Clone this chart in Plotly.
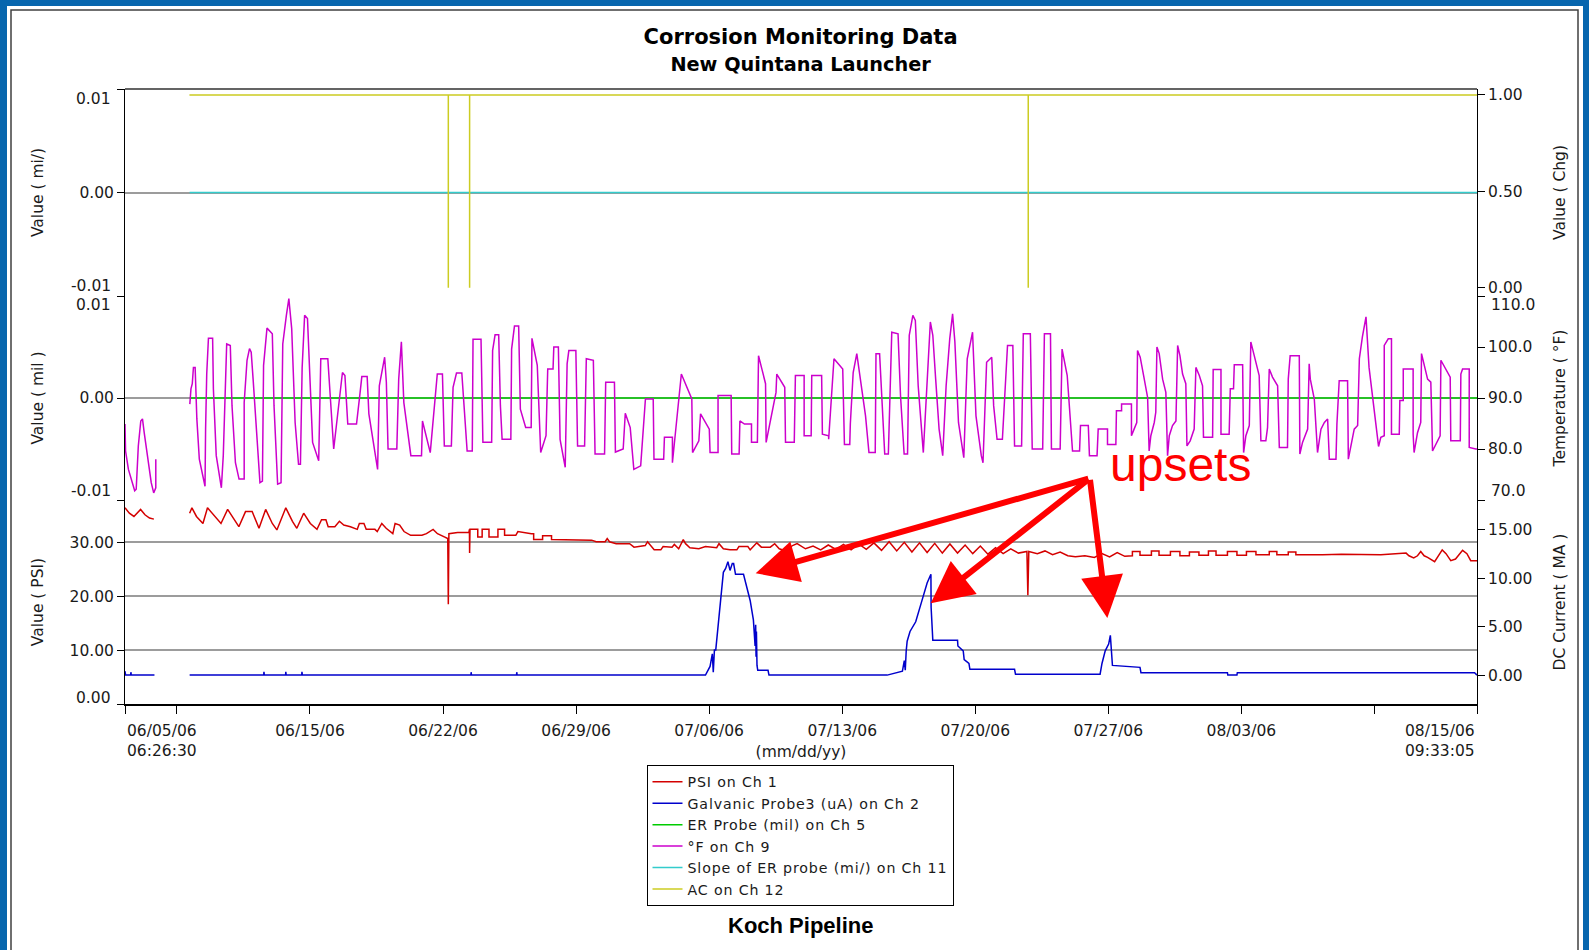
import pandas as pd
import plotly.graph_objects as go

# ---------------- data ----------------
START = pd.Timestamp("2006-06-05 06:26:30")
END = pd.Timestamp("2006-08-15 09:33:05")

# Temperature (°F on Ch 9): day offset from START, value
TEMP_DAYS = [
    0.00, 0.03, 0.18, 0.37, 0.51, 0.59, 0.70, 0.83, 0.92, 1.01, 1.20, 1.38, 1.51, 1.62, 1.62, 2.50,
    3.41, 3.47, 3.54, 3.60, 3.69, 3.78, 3.91, 4.06, 4.21, 4.24, 4.30, 4.39, 4.61, 4.65, 4.80, 5.07,
    5.17, 5.35, 5.54, 5.63, 5.81, 6.00, 6.27, 6.27, 6.42, 6.55, 6.64, 6.74, 6.92, 7.10, 7.23, 7.29,
    7.47, 7.75, 7.84, 8.03, 8.21, 8.30, 8.49, 8.62, 8.77, 8.95, 9.13, 9.23, 9.32, 9.45, 9.60, 9.69,
    9.87, 10.19, 10.30, 10.67, 10.80, 10.98, 11.44, 11.57, 11.72, 12.18, 12.37, 12.46, 12.74, 12.83,
    13.29, 13.38, 13.66, 13.75, 13.84, 14.30, 14.40, 14.54, 14.67, 15.04, 15.60, 15.65, 16.06, 16.20,
    16.43, 16.70, 16.80, 17.17, 17.26, 17.44, 17.72, 18.00, 18.27, 18.31, 18.73, 18.83, 19.29, 19.34,
    19.47, 19.66, 19.75, 19.84, 20.30, 20.34, 20.49, 20.71, 20.80, 21.08, 21.37, 21.41, 21.69, 21.87,
    22.15, 22.24, 22.52, 22.56, 22.80, 22.89, 23.16, 23.26, 23.35, 23.72, 23.81, 24.18, 24.27, 24.64,
    24.73, 25.23, 25.29, 25.75, 25.80, 26.21, 26.32, 26.58, 26.77, 27.13, 27.27, 27.38, 27.79, 27.83,
    28.34, 28.38, 28.80, 28.80, 29.27, 29.82, 29.86, 30.19, 30.28, 30.74, 30.78, 31.20, 31.20, 31.89,
    31.92, 32.31, 32.35, 32.59, 32.96, 32.96, 33.27, 33.33, 33.70, 33.73, 34.25, 34.29, 34.71, 34.75,
    35.21, 35.27, 35.73, 35.73, 36.10, 36.13, 36.65, 36.69, 37.02, 37.02, 37.30, 37.76, 37.85, 38.13,
    38.16, 38.31, 38.50, 38.68, 38.96, 39.14, 39.47, 39.51, 39.70, 39.97, 40.16, 40.34, 40.67, 40.80,
    40.99, 41.17, 41.26, 41.45, 41.58, 41.73, 41.91, 42.00, 42.37, 42.50, 42.65, 42.83, 43.02, 43.20,
    43.39, 43.54, 43.66, 43.85, 44.13, 44.31, 44.59, 44.77, 45.05, 45.14, 45.33, 45.60, 45.70, 45.88,
    46.16, 46.43, 46.71, 46.80, 47.17, 47.26, 47.63, 47.73, 48.28, 48.37, 48.69, 48.74, 49.20, 49.30,
    49.57, 49.76, 49.85, 50.22, 50.27, 50.68, 50.74, 51.14, 51.20, 51.69, 51.69, 52.13, 52.16, 52.43,
    52.43, 52.95, 52.95, 53.09, 53.23, 53.27, 53.41, 53.59, 53.80, 53.88, 53.97, 54.15, 54.23, 54.29,
    54.41, 54.59, 54.76, 54.85, 54.94, 55.11, 55.29, 55.38, 55.50, 55.64, 55.81, 55.87, 56.04, 56.25,
    56.34, 56.52, 56.69, 56.74, 57.22, 57.25, 57.66, 57.66, 58.09, 58.15, 58.32, 58.36, 58.80, 58.85,
    58.97, 59.15, 59.23, 59.41, 59.67, 59.76, 60.02, 60.11, 60.20, 60.37, 60.64, 60.73, 61.16, 61.20,
    61.30, 61.78, 61.81, 61.95, 62.22, 62.30, 62.36, 62.57, 62.74, 62.92, 63.10, 63.27, 63.36, 63.71,
    63.76, 63.88, 64.32, 64.36, 64.67, 64.85, 64.94, 65.10, 65.29, 65.45, 65.70, 65.95, 66.07, 66.25,
    66.25, 66.46, 66.63, 66.63, 67.04, 67.07, 67.25, 67.25, 67.77, 67.77, 67.82, 68.00, 68.17, 68.21,
    68.53, 68.70, 68.79, 69.05, 69.19, 69.23, 69.58, 69.72, 69.75, 70.25, 70.28, 70.37, 70.72, 70.72,
    71.07, 71.13,
]
TEMP_F = [
    84.9, 79.6, 76.0, 73.4, 71.8, 72.1, 80.6, 85.5, 85.9, 83.2, 78.0, 73.4, 71.4, 72.4, 78.0, None,
    88.8, 91.8, 92.8, 96.0, 96.0, 85.9, 78.0, 75.4, 72.7, 83.9, 94.7, 101.7, 101.7, 91.8, 78.7, 72.4,
    78.7, 100.6, 100.3, 88.5, 77.3, 74.1, 74.1, 89.1, 97.4, 99.7, 99.0, 93.7, 83.2, 73.4, 73.7, 96.4,
    103.7, 102.6, 88.5, 73.1, 73.4, 100.6, 106.2, 109.5, 103.6, 85.2, 77.0, 77.0, 96.0, 106.2, 105.6, 97.7,
    81.3, 77.7, 97.7, 97.7, 89.8, 80.0, 95.0, 94.4, 84.9, 84.9, 91.1, 94.2, 94.2, 86.9,
    76.0, 92.4, 98.0, 93.1, 80.0, 80.0, 93.7, 101.0, 89.1, 78.7, 78.7, 85.5, 79.3, 85.5,
    94.7, 94.7, 80.6, 80.6, 92.1, 94.9, 94.9, 79.6, 79.6, 101.5, 101.5, 81.3, 81.3, 99.3,
    102.4, 102.4, 88.5, 81.9, 81.9, 99.6, 104.1, 104.1, 87.8, 84.2, 84.2, 101.7, 96.4, 79.3,
    82.6, 95.7, 95.7, 100.0, 100.0, 81.9, 76.4, 96.7, 99.3, 99.3, 80.6, 80.6, 97.7, 97.4,
    79.0, 79.0, 93.1, 93.1, 79.4, 80.0, 87.0, 84.2, 76.0, 76.7, 84.9, 89.8, 89.8, 78.0,
    78.0, 82.3, 82.3, 77.3, 94.7, 89.8, 79.3, 81.6, 86.9, 83.9, 79.3, 79.3, 90.5, 90.5,
    79.0, 79.0, 85.5, 84.9, 84.9, 81.3, 81.3, 98.3, 92.8, 81.3, 91.1, 94.7, 92.1, 81.3,
    81.3, 94.4, 94.4, 82.6, 82.6, 94.4, 94.4, 82.9, 82.6, 81.9, 97.7, 95.7, 80.9, 80.9,
    84.9, 95.0, 98.7, 94.1, 86.5, 79.3, 79.3, 98.7, 98.7, 79.0, 79.0, 102.9, 102.6, 90.5,
    79.0, 79.0, 102.3, 106.2, 105.2, 92.4, 83.9, 79.3, 104.9, 102.3, 93.7, 83.9, 78.7, 92.4,
    101.6, 106.5, 101.0, 85.2, 78.3, 97.7, 102.9, 86.5, 78.7, 77.3, 97.0, 98.0, 88.5, 81.9,
    81.9, 100.3, 100.3, 80.6, 80.6, 102.6, 102.6, 80.0, 80.0, 102.6, 102.6, 80.0, 80.0, 99.6,
    94.4, 85.2, 79.6, 79.6, 84.6, 84.6, 78.7, 78.7, 83.9, 83.9, 80.9, 80.9, 87.5, 87.5,
    88.8, 88.8, 82.6, 83.9, 85.2, 99.3, 98.0, 94.4, 90.1, 79.6, 82.6, 85.2, 87.2, 100.0,
    98.7, 93.7, 91.1, 78.7, 82.6, 84.6, 85.5, 100.3, 98.3, 94.7, 92.8, 80.6, 81.6, 83.9,
    96.0, 94.4, 92.4, 82.3, 82.3, 95.6, 95.6, 82.9, 82.9, 91.8, 91.8, 96.5, 96.5, 79.3,
    82.6, 84.6, 101.0, 98.3, 94.4, 81.6, 81.6, 84.2, 95.7, 94.1, 92.4, 80.3, 80.3, 93.7,
    98.3, 98.3, 79.0, 81.3, 83.9, 96.7, 93.7, 89.8, 79.3, 83.9, 85.2, 85.9, 78.0, 78.0,
    84.9, 93.4, 93.4, 78.0, 83.9, 84.6, 97.7, 102.0, 105.9, 96.0, 88.0, 80.5, 82.3, 82.6,
    100.3, 101.6, 101.6, 82.9, 82.9, 89.5, 89.5, 95.7, 95.7, 82.9, 79.3, 83.2, 85.2, 98.7,
    93.7, 93.1, 79.6, 81.6, 82.6, 97.4, 95.1, 94.1, 81.6, 81.6, 94.7, 95.7, 95.7, 80.3,
    80.0, 80.0,
]

# Pressure (PSI on Ch 1)
PSI_DAYS = [
    0.00, 0.23, 0.47, 0.82, 1.05, 1.29, 1.52, 2.50,
    3.40, 3.52, 3.76, 4.10, 4.34, 4.58, 5.05, 5.40, 5.64, 5.99, 6.34, 6.69, 7.05, 7.40, 7.75, 7.99,
    8.46, 8.81, 9.04, 9.40, 9.75, 10.10, 10.34, 10.57, 10.69, 11.04, 11.28, 11.51, 11.86, 12.22,
    12.33, 12.57, 12.69, 13.15, 13.27, 13.51, 13.74, 14.09, 14.21, 14.45, 14.68, 15.03, 15.62, 15.86,
    16.21, 16.44, 16.80, 16.98, 17.01, 17.04, 17.50, 18.09, 18.12, 18.13, 18.15, 18.56, 18.56, 18.79,
    18.79, 19.15, 19.15, 19.62, 19.62, 19.97, 19.97, 20.56, 20.67, 21.38, 21.50, 21.50, 21.97, 21.97,
    22.44, 22.44, 23.61, 24.55, 24.79, 25.26, 25.37, 25.49, 25.84, 26.55, 26.78, 27.37, 27.49, 27.72,
    27.84, 28.19, 28.31, 28.78, 28.90, 29.13, 29.37, 29.49, 29.72, 30.19, 30.54, 31.13, 31.25, 31.48,
    31.83, 32.19, 32.30, 32.77, 32.89, 33.24, 33.48, 33.95, 34.18, 34.42, 34.77, 35.12, 35.36, 35.80,
    36.20, 36.60, 37.00, 37.40, 37.80, 38.20, 38.60, 39.00, 39.40, 39.80, 40.20, 40.60, 41.00, 41.40,
    41.80, 42.20, 42.60, 43.00, 43.40, 43.80, 44.20, 44.60, 45.00, 45.40, 45.80, 46.20, 46.60, 47.00,
    47.45, 47.50, 47.55, 48.00, 48.40, 48.80, 49.20, 49.60, 50.00, 50.50, 51.00, 51.40, 51.80, 52.20,
    52.60, 53.00, 53.00, 53.40, 53.40, 54.00, 54.00, 54.40, 54.40, 55.00, 55.00, 55.50, 55.50, 56.00,
    56.00, 56.50, 56.50, 57.00, 57.00, 57.40, 57.40, 58.00, 58.00, 58.50, 58.50, 59.00, 59.00, 59.50,
    59.50, 60.20, 60.20, 60.60, 60.60, 61.20, 61.20, 61.60, 61.60, 63.00, 64.00, 66.07, 67.40, 67.55,
    67.80, 68.00, 68.17, 68.35, 68.53, 68.90, 69.30, 69.50, 69.75, 70.00, 70.37, 70.60, 70.80, 71.13,
]
PSI_VALUES = [
    36.4, 35.4, 34.8, 36.1, 35.1, 34.5, 34.3, None,
    35.4, 36.4, 34.8, 33.5, 36.4, 35.4, 33.5, 36.1, 34.8, 32.9, 35.7, 35.7, 32.6, 36.1, 33.5, 32.3,
    36.4, 33.9, 32.6, 35.4, 33.5, 32.4, 34.2, 34.2, 32.9, 32.9, 33.9, 33.2, 32.9, 32.4,
    33.5, 33.5, 32.4, 32.4, 32.0, 33.5, 32.6, 31.6, 33.5, 33.2, 32.0, 31.3, 31.3, 31.6,
    32.4, 31.6, 31.0, 30.7, 18.5, 31.6, 31.8, 31.8, 32.4, 28.0, 32.4, 32.4, 31.0, 31.0,
    32.4, 32.4, 31.0, 31.0, 32.4, 32.4, 31.3, 31.3, 32.0, 31.6, 31.6, 30.5, 30.5, 31.2,
    31.2, 30.5, 30.5, 30.4, 30.1, 30.1, 30.7, 30.1, 29.75, 29.75, 29.1, 29.4, 30.1, 29.1,
    28.6, 28.6, 29.2, 29.1, 29.6, 28.8, 30.5, 29.75, 29.0, 28.8, 29.2, 29.0, 29.75, 28.8,
    28.6, 28.6, 29.2, 29.2, 28.6, 29.9, 29.1, 29.1, 29.75, 28.8, 28.4, 29.4, 29.75, 28.8,
    29.3, 28.6, 29.5, 28.7, 29.6, 28.6, 29.7, 28.7, 29.9, 28.5, 30.1, 28.4, 30.0, 28.2,
    29.9, 28.1, 29.8, 28.0, 29.7, 28.0, 29.5, 27.9, 29.3, 27.8, 29.0, 27.9, 28.8, 28.0,
    28.3, 20.2, 28.3, 27.9, 28.4, 27.7, 28.2, 27.5, 27.3, 27.5, 27.2, 27.9, 27.3, 28.1,
    27.4, 27.5, 28.3, 28.3, 27.6, 27.6, 28.4, 28.4, 27.6, 27.6, 28.3, 28.3, 27.5, 27.5,
    28.2, 28.2, 27.6, 27.6, 28.4, 28.4, 27.6, 27.6, 28.3, 28.3, 27.6, 27.6, 28.3, 28.3,
    27.7, 27.7, 28.3, 28.3, 27.7, 27.7, 28.2, 28.2, 27.7, 27.7, 27.8, 27.7, 28.0, 27.5,
    27.1, 27.5, 28.3, 27.5, 27.2, 26.4, 28.6, 27.9, 26.6, 26.9, 28.5, 27.9, 26.6, 26.6,
]

# Galvanic probe current (right axis, mA)
GALV_DAYS = [
    0.00, 0.03, 0.30, 0.31, 0.33, 1.55, 2.50,
    3.40, 7.30, 7.31, 7.33, 8.45, 8.46, 8.48, 9.30, 9.31, 9.33, 18.20, 18.21, 18.23, 20.60, 20.61,
    20.63, 30.54, 30.66, 30.78, 30.90, 30.95, 31.01, 31.08, 31.25, 31.36, 31.48, 31.60, 31.72, 31.83,
    31.95, 32.02, 32.12, 32.54, 32.66, 32.89, 33.06, 33.15, 33.18, 33.20, 33.22, 33.25, 33.29, 33.83,
    33.88, 40.10, 40.90, 41.00, 41.05, 41.10, 41.15, 41.30, 41.60, 41.90, 42.20, 42.40, 42.41, 42.50,
    43.80, 43.82, 44.10, 44.15, 44.40, 44.45, 46.80, 46.85, 51.30, 51.40, 51.57, 51.75, 51.84, 51.95,
    53.40, 53.45, 58.00, 58.02, 58.50, 58.52, 71.00, 71.13,
]
GALV_MA = [
    0.4, 0.0, 0.0, 0.3, 0.0, 0.0, None,
    0.0, 0.0, 0.35, 0.0, 0.0, 0.35, 0.0, 0.0, 0.35, 0.0, 0.0, 0.3, 0.0, 0.0, 0.3,
    0.0, 0.0, 0.5, 0.9, 2.2, 0.3, 2.6, 2.6, 6.0, 8.4, 10.6, 11.0, 11.7, 10.8,
    11.5, 11.5, 10.4, 10.4, 9.4, 7.7, 5.7, 3.0, 5.2, 1.9, 4.5, 1.0, 0.5, 0.5,
    0.0, 0.0, 0.4, 1.5, 0.5, 2.5, 3.5, 4.5, 5.5, 7.5, 9.5, 10.4, 7.0, 3.6,
    3.6, 3.0, 2.5, 1.6, 1.2, 0.6, 0.6, 0.1, 0.1, 1.2, 2.5, 3.2, 4.1, 1.0,
    0.8, 0.25, 0.25, 0.0, 0.0, 0.25, 0.25, 0.0,
]

# Flat channels
ER_DAYS = [3.40, 71.13]
ER_MIL = [0.0, 0.0]
SLOPE_DAYS = [3.40, 71.13]
SLOPE_MIL = [0.0, 0.0]
AC_DAYS = [3.39, 17.01, 17.01, 17.01, 18.13, 18.13, 18.13, 47.52, 47.52, 47.52, 71.13]
AC_CHG = [1.0, 1.0, 0.0, 1.0, 1.0, 0.0, 1.0, 1.0, 0.0, 1.0, 1.0]

# Axis ticks
X_TICK_DATES = ["2006-06-08", "2006-06-15", "2006-06-22", "2006-06-29", "2006-07-06",
                "2006-07-13", "2006-07-20", "2006-07-27", "2006-08-03", "2006-08-10"]
X_TICK_TEXT = ["", "06/15/06", "06/22/06", "06/29/06", "07/06/06",
               "07/13/06", "07/20/06", "07/27/06", "08/03/06", ""]
PSI_TICKS = [0, 10, 20, 30]
PSI_TICK_TEXT = ["", "10.00", "20.00", "30.00"]
MIL_TICKS = [-0.01, 0.0, 0.01]
MIL_TICK_TEXT = ["", "0.00", ""]
DC_TICKS = [0, 5, 10, 15]
DC_TICK_TEXT = ["0.00", "5.00", "10.00", "15.00"]
TEMP_TICKS = [70, 80, 90, 100, 110]
TEMP_TICK_TEXT = ["", "80.0", "90.0", "100.0", ""]
CHG_TICKS = [0, 0.5, 1.0]
CHG_TICK_TEXT = ["0.00", "0.50", "1.00"]


def times(days):
    return [START + pd.Timedelta(days=d) for d in days]


# ---------------- layout geometry ----------------
W, H = 1589, 950
ML, MR, MT, MB = 125, 112, 89, 246
PW, PH = W - ML - MR, H - MT - MB


def fx(px):
    return (px - ML) / PW


def fy(py):
    return (H - MB - py) / PH


SEP_LOW, SEP_HIGH = fy(500), fy(296)

FONT = "DejaVu Sans"
TICKF = dict(family=FONT, size=15.5, color="#1a1a1a")
TITLEF = dict(family=FONT, size=15.5, color="#1a1a1a")
GRID = "#9c9c9c"

C_RED, C_BLUE, C_GREEN = "#D40000", "#0000CC", "#00CC00"
C_MAG, C_CYAN, C_YEL = "#CC00CC", "#33CCCC", "#CCCC22"


def legend_name(txt):
    return "<span style='letter-spacing:0.85px'>" + txt + "</span>"


fig = go.Figure()
fig.add_trace(go.Scatter(x=times(PSI_DAYS), y=PSI_VALUES, name=legend_name("PSI on Ch 1"), mode="lines",
                         line=dict(color=C_RED, width=1.5), xaxis="x", yaxis="y", connectgaps=False))
fig.add_trace(go.Scatter(x=times(GALV_DAYS), y=GALV_MA, name=legend_name("Galvanic Probe3 (uA) on Ch 2"),
                         mode="lines", line=dict(color=C_BLUE, width=1.5), xaxis="x", yaxis="y4",
                         connectgaps=False))
fig.add_trace(go.Scatter(x=times(ER_DAYS), y=ER_MIL, name=legend_name("ER Probe (mil) on Ch 5"), mode="lines",
                         line=dict(color=C_GREEN, width=1.5), xaxis="x", yaxis="y2"))
fig.add_trace(go.Scatter(x=times(TEMP_DAYS), y=TEMP_F, name=legend_name("°F on Ch 9"), mode="lines",
                         line=dict(color=C_MAG, width=1.5), xaxis="x", yaxis="y5", connectgaps=False))
fig.add_trace(go.Scatter(x=times(SLOPE_DAYS), y=SLOPE_MIL, name=legend_name("Slope of ER probe (mi/) on Ch 11"),
                         mode="lines", line=dict(color=C_CYAN, width=1.5), xaxis="x", yaxis="y3"))
fig.add_trace(go.Scatter(x=times(AC_DAYS), y=AC_CHG, name=legend_name("AC on Ch 12"), mode="lines",
                         line=dict(color=C_YEL, width=1.5), xaxis="x", yaxis="y6"))

axis_common = dict(showline=True, linecolor="black", linewidth=1, ticks="outside", ticklen=7,
                   tickcolor="black", tickfont=TICKF, zeroline=False, fixedrange=True,
                   tickmode="array")

fig.update_layout(
    xaxis=dict(type="date", range=[START, END], anchor="y", domain=[0, 1],
               tickvals=[START] + X_TICK_DATES + [END], ticktext=[""] + X_TICK_TEXT + [""],
               showgrid=False, showline=True, linecolor="black", linewidth=1.5,
               ticks="outside", ticklen=8, tickcolor="black", tickfont=TICKF, ticklabelstandoff=4,
               title=dict(text="(mm/dd/yy)", font=TITLEF, standoff=7), zeroline=False,
               fixedrange=True),
    yaxis=dict(domain=[0, SEP_LOW], range=[0, 37.85], anchor="x", tickvals=PSI_TICKS,
               ticktext=PSI_TICK_TEXT, showgrid=True, gridcolor=GRID, gridwidth=2,
               title=dict(text="Value ( PSI)", font=TITLEF, standoff=22), **axis_common),
    yaxis2=dict(domain=[SEP_LOW, SEP_HIGH], range=[-0.01, 0.01], anchor="x", tickvals=MIL_TICKS,
                ticktext=MIL_TICK_TEXT, showgrid=True, gridcolor=GRID, gridwidth=2,
                title=dict(text="Value ( mil )", font=TITLEF, standoff=31), **axis_common),
    yaxis3=dict(domain=[SEP_HIGH, 1], range=[-0.01, 0.01], anchor="x", tickvals=MIL_TICKS,
                ticktext=MIL_TICK_TEXT, showgrid=True, gridcolor=GRID, gridwidth=2,
                title=dict(text="Value ( mi/)", font=TITLEF, standoff=31), **axis_common),
    yaxis4=dict(overlaying="y", side="right", anchor="x", range=[-2.98, 18.06], tickvals=DC_TICKS,
                ticktext=DC_TICK_TEXT, showgrid=False,
                title=dict(text="DC Current ( MA )", font=TITLEF, standoff=22), **axis_common),
    yaxis5=dict(overlaying="y2", side="right", anchor="x", range=[70, 110], tickvals=TEMP_TICKS,
                ticktext=TEMP_TICK_TEXT, showgrid=False,
                title=dict(text="Temperature ( °F)", font=TITLEF, standoff=22), **axis_common),
    yaxis6=dict(overlaying="y3", side="right", anchor="x", range=[-0.043, 1.031], tickvals=CHG_TICKS,
                ticktext=CHG_TICK_TEXT, showgrid=False,
                title=dict(text="Value ( Chg)", font=TITLEF, standoff=32), **axis_common),
)

# end-of-axis labels that the original draws nudged inward
end_labels = [
    ("y3", 0.01, "0.01", "left", -10), ("y3", -0.01, "-0.01", "left", 10),
    ("y2", 0.01, "0.01", "left", -9), ("y2", -0.01, "-0.01", "left", 9),
    ("y", 0, "0.00", "left", 6),
    ("y5", 110, "110.0", "right", -9), ("y5", 70, "70.0", "right", 9),
]
annotations = []
for yref, val, txt, side, shift in end_labels:
    annotations.append(dict(
        xref="paper", yref=yref, x=0 if side == "left" else 1, y=val, text=txt, showarrow=False,
        xanchor="right" if side == "left" else "left", yanchor="middle",
        xshift=-12 if side == "left" else 12, yshift=shift, font=TICKF))

annotations += [
    dict(xref="x", yref="paper", x=START, y=0, yanchor="top", xanchor="left", yshift=-16,
         text="06/05/06<br>06:26:30", showarrow=False, font=TICKF, align="left"),
    dict(xref="x", yref="paper", x=END, y=0, yanchor="top", xanchor="right", yshift=-16,
         text="08/15/06<br>09:33:05", showarrow=False, font=TICKF, align="right"),
    dict(xref="paper", yref="paper", x=fx(800), y=fy(926), xanchor="center", yanchor="middle",
         text="<b>Koch Pipeline</b>", showarrow=False,
         font=dict(family="Liberation Sans", size=22, color="black")),
    dict(xref="paper", yref="paper", x=fx(1180), y=fy(465), xanchor="center", yanchor="middle",
         text="upsets", showarrow=False, font=dict(family="Liberation Sans", size=48, color="#FF0000")),
]

# arrows from the "upsets" label to the three events
ARROW_TAIL = (50.76, 20.3)
ARROW_TIPS = [(33.18, 10.5), (42.39, 7.4), (51.68, 5.9)]
for tx, ty in ARROW_TIPS:
    annotations.append(dict(
        xref="x", yref="y4", x=START + pd.Timedelta(days=tx), y=ty,
        axref="x", ayref="y4", ax=START + pd.Timedelta(days=ARROW_TAIL[0]), ay=ARROW_TAIL[1],
        text="", showarrow=True, arrowhead=2, arrowsize=1.4, arrowwidth=6, arrowcolor="#FF0000",
        standoff=0))

shapes = [
    dict(type="rect", xref="paper", yref="paper", x0=fx(7), x1=fx(1583), y0=fy(960), y1=fy(6),
         fillcolor="white", line=dict(width=0), layer="below"),
    dict(type="rect", xref="paper", yref="paper", x0=fx(11), x1=fx(1578), y0=fy(970), y1=fy(10),
         fillcolor="rgba(0,0,0,0)", line=dict(color="#404040", width=1.5), layer="below"),
    dict(type="line", xref="paper", yref="paper", x0=0, x1=1, y0=1, y1=1,
         line=dict(color="#303030", width=1.5)),
]

fig.update_layout(
    width=W, height=H, margin=dict(l=ML, r=MR, t=MT, b=MB, autoexpand=False),
    paper_bgcolor="#0766AE", plot_bgcolor="white",
    title=dict(text="<b>Corrosion Monitoring Data</b><br><span style='font-size:19.3px'><b>New Quintana Launcher</b></span>",
               x=800.6 / W, xanchor="center", y=1 - 44 / H, yanchor="middle",
               font=dict(family=FONT, size=21, color="black")),
    showlegend=True,
    legend=dict(x=fx(646.5), y=fy(765), xanchor="left", yanchor="top", bgcolor="white",
                bordercolor="black", borderwidth=1, font=dict(family=FONT, size=14.2, color="#1a1a1a"),
                itemwidth=30, tracegroupgap=0, traceorder="normal"),
    annotations=annotations, shapes=shapes,
)

fig.write_html("out.html", config={"displayModeBar": False, "staticPlot": False},
               post_script="document.body.style.margin='0px';document.body.style.overflow='hidden';")
